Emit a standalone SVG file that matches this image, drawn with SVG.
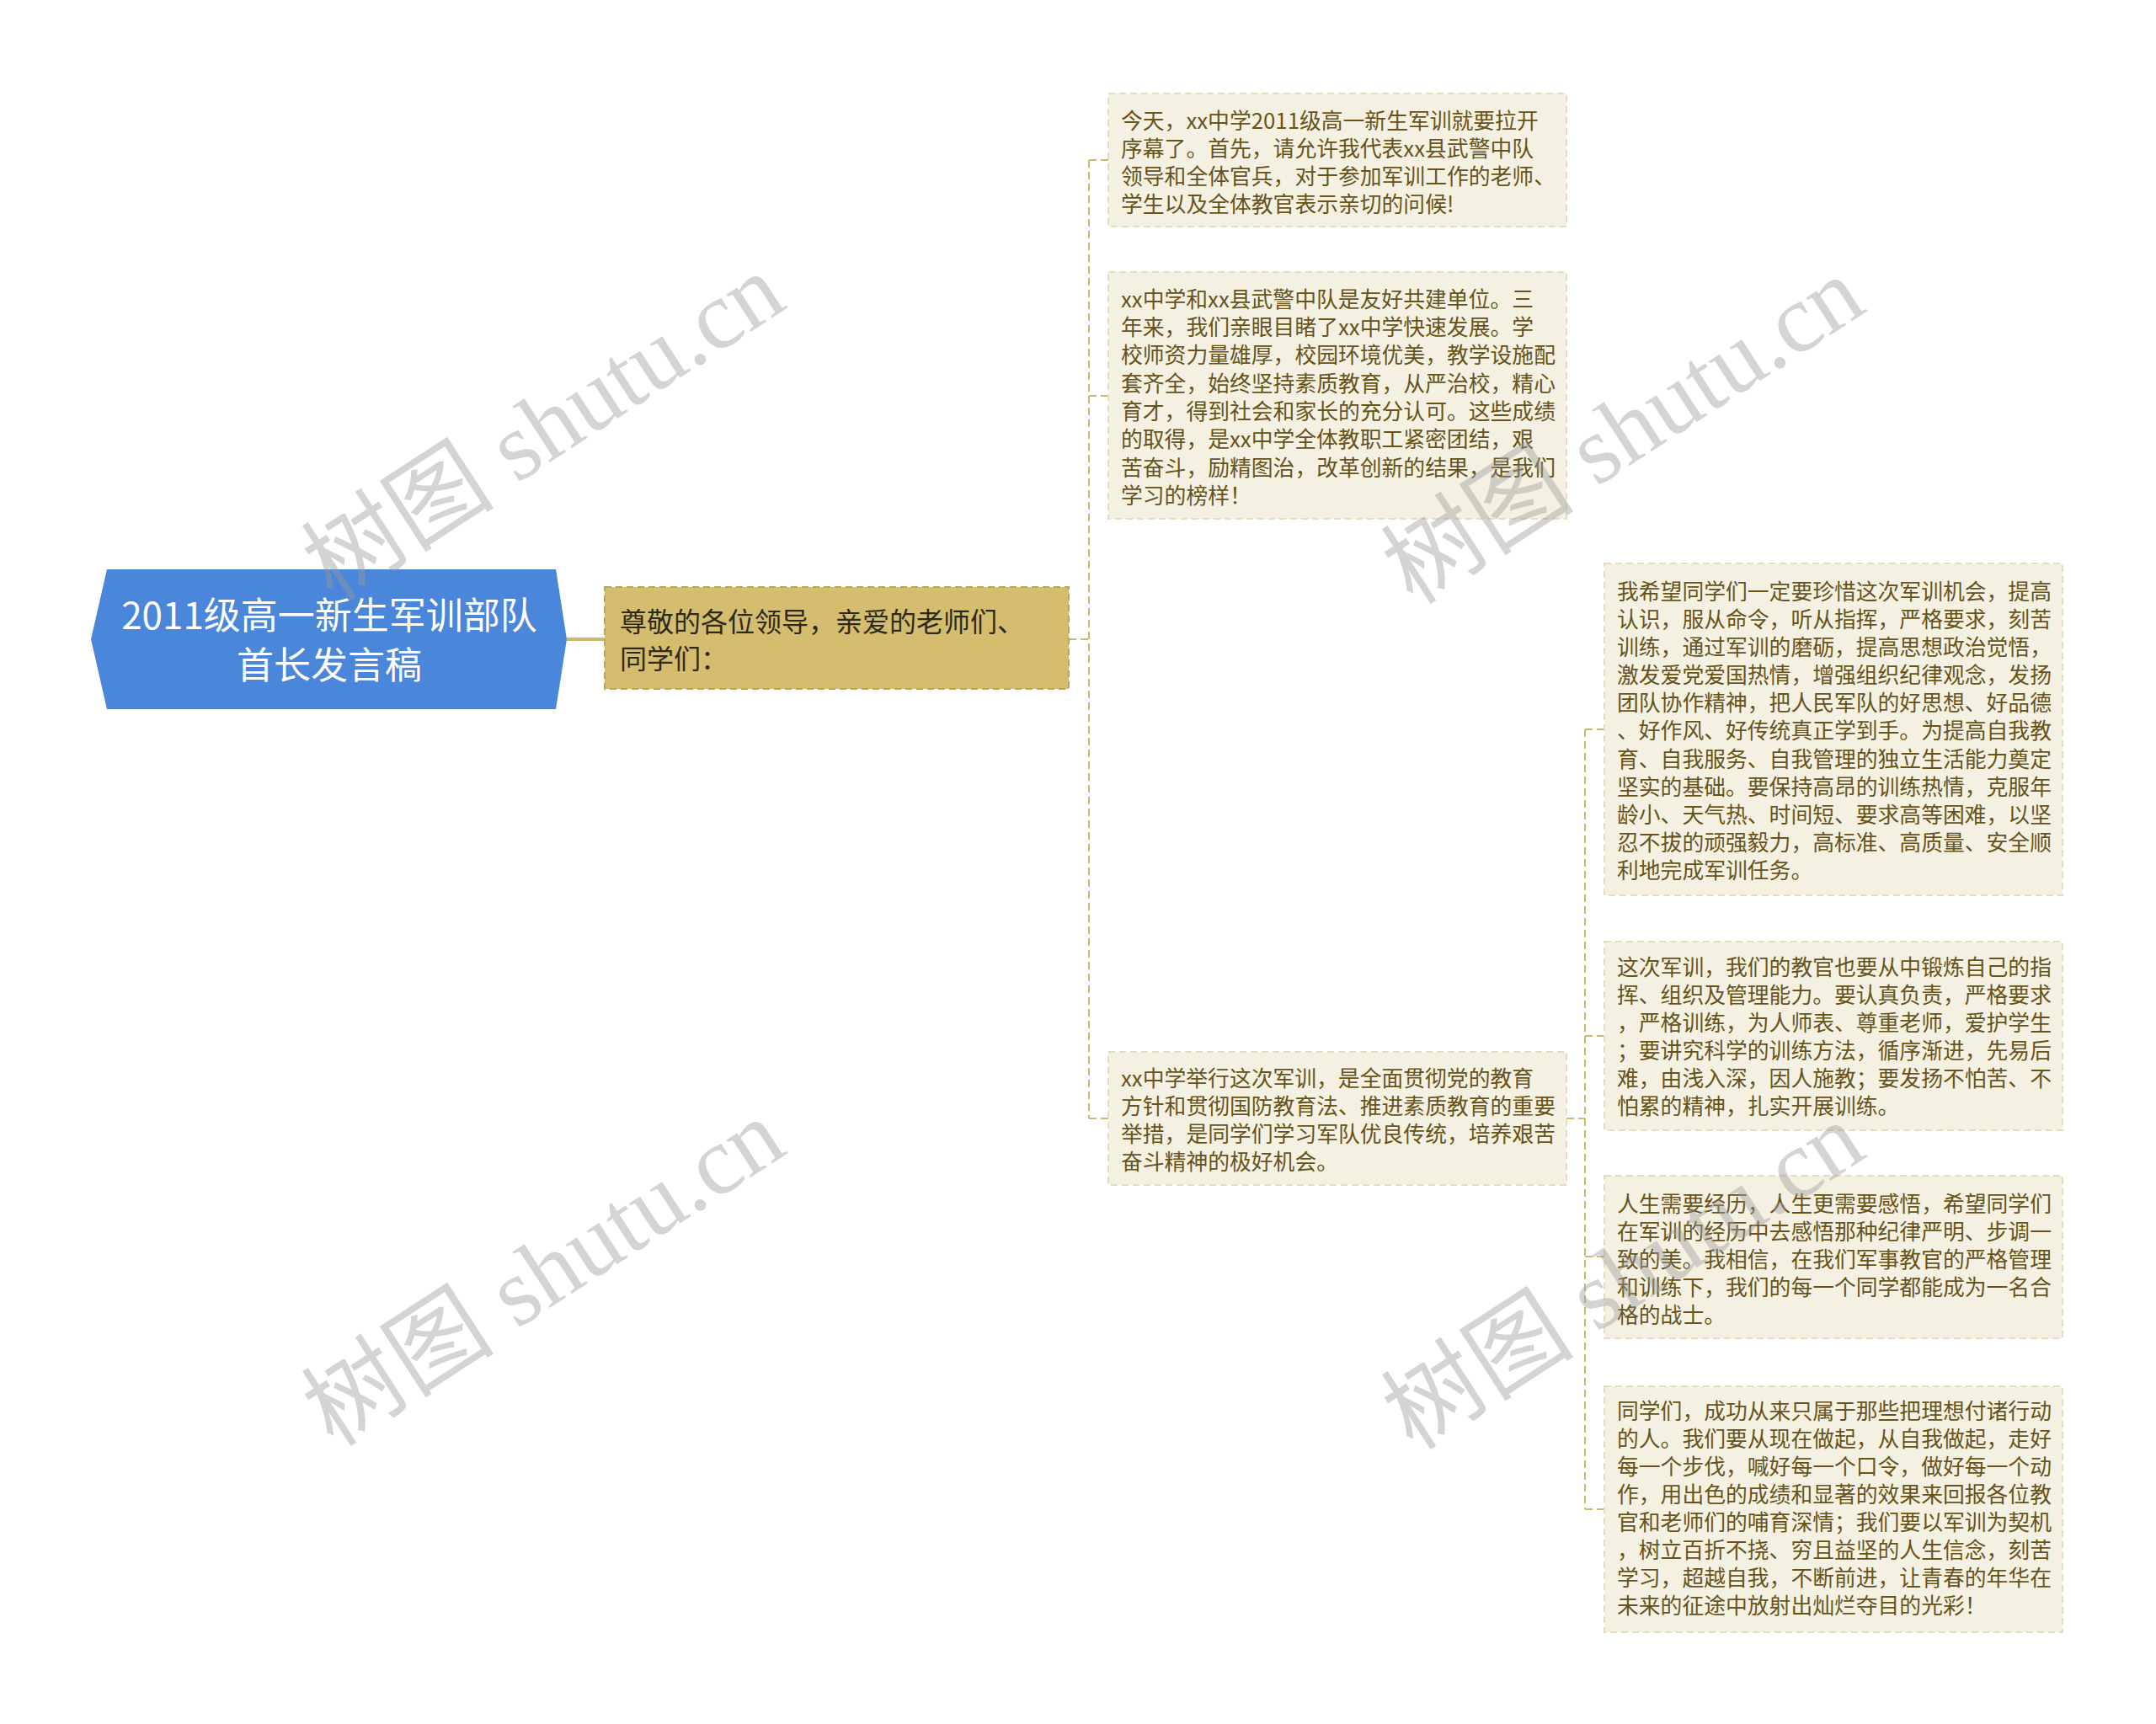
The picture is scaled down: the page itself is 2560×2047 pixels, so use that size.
<svg xmlns="http://www.w3.org/2000/svg" width="2560" height="2047" viewBox="0 0 2560 2047">
<style>
.t{font-family:'Noto Sans CJK SC','Noto Sans',sans-serif;}
.root{fill:#4a86d9;}
.rt{fill:#ffffff;font-size:44px;text-anchor:middle;}
.l1{fill:#d4bd6f;stroke:#bfa556;stroke-width:2;stroke-dasharray:8 5;}
.l1t{fill:#2e2a1a;font-size:32px;}
.leaf{fill:#f4f1e2;stroke:#e4ddc2;stroke-width:2;stroke-dasharray:8 5;}
.lt{fill:#67531a;font-size:25.8px;}
.c{fill:none;stroke:#cdb872;stroke-width:2;stroke-dasharray:9 5;}
.cs{fill:none;stroke:#cdb872;stroke-width:4;}
.wm{font-family:'Liberation Serif','Noto Sans CJK SC',serif;font-size:115px;fill:#9a9a9a;opacity:0.42;text-anchor:middle;}
</style>
<rect width="2560" height="2047" fill="#ffffff"/>
<g id="connectors">
<path class="cs" d="M673,759 H718"/>
<path class="c" d="M1269,759 H1293"/>
<path class="c" d="M1293,190 V1328"/>
<path class="c" d="M1293,190 H1316"/>
<path class="c" d="M1293,470 H1316"/>
<path class="c" d="M1293,1328 H1316"/>
<path class="c" d="M1860,1328 H1882"/>
<path class="c" d="M1882,866 V1792"/>
<path class="c" d="M1882,866 H1905"/>
<path class="c" d="M1882,1230 H1905"/>
<path class="c" d="M1882,1492 H1905"/>
<path class="c" d="M1882,1792 H1905"/>
</g>
<g id="root">
<polygon class="root" points="108,759 127,676 660,676 673,759 660,842 127,842"/>
<text class="t rt" x="391" y="747">2011级高一新生军训部队</text>
<text class="t rt" x="391" y="806">首长发言稿</text>
</g>
<g id="n-greeting">
<rect class="l1" x="718" y="697" width="551" height="121"/>
<text class="t l1t" x="736" y="750">尊敬的各位领导，亲爱的老师们、</text>
<text class="t l1t" x="736" y="794">同学们：</text>
</g>
<g id="n-a">
<rect class="leaf" x="1316" y="111" width="544" height="158"/>
<text class="t lt" x="1331" y="153">今天，xx中学2011级高一新生军训就要拉开</text>
<text class="t lt" x="1331" y="186">序幕了。首先，请允许我代表xx县武警中队</text>
<text class="t lt" x="1331" y="219">领导和全体官兵，对于参加军训工作的老师、</text>
<text class="t lt" x="1331" y="252">学生以及全体教官表示亲切的问候!</text>
</g>
<g id="n-b">
<rect class="leaf" x="1316" y="323" width="544" height="293"/>
<text class="t lt" x="1331" y="365">xx中学和xx县武警中队是友好共建单位。三</text>
<text class="t lt" x="1331" y="398">年来，我们亲眼目睹了xx中学快速发展。学</text>
<text class="t lt" x="1331" y="431">校师资力量雄厚，校园环境优美，教学设施配</text>
<text class="t lt" x="1331" y="465">套齐全，始终坚持素质教育，从严治校，精心</text>
<text class="t lt" x="1331" y="498">育才，得到社会和家长的充分认可。这些成绩</text>
<text class="t lt" x="1331" y="531">的取得，是xx中学全体教职工紧密团结，艰</text>
<text class="t lt" x="1331" y="565">苦奋斗，励精图治，改革创新的结果，是我们</text>
<text class="t lt" x="1331" y="598">学习的榜样！</text>
</g>
<g id="n-c">
<rect class="leaf" x="1316" y="1249" width="544" height="158"/>
<text class="t lt" x="1331" y="1290">xx中学举行这次军训，是全面贯彻党的教育</text>
<text class="t lt" x="1331" y="1323">方针和贯彻国防教育法、推进素质教育的重要</text>
<text class="t lt" x="1331" y="1356">举措，是同学们学习军队优良传统，培养艰苦</text>
<text class="t lt" x="1331" y="1389">奋斗精神的极好机会。</text>
</g>
<g id="n-d">
<rect class="leaf" x="1905" y="669" width="544" height="394"/>
<text class="t lt" x="1920" y="712">我希望同学们一定要珍惜这次军训机会，提高</text>
<text class="t lt" x="1920" y="745">认识，服从命令，听从指挥，严格要求，刻苦</text>
<text class="t lt" x="1920" y="778">训练，通过军训的磨砺，提高思想政治觉悟，</text>
<text class="t lt" x="1920" y="811">激发爱党爱国热情，增强组织纪律观念，发扬</text>
<text class="t lt" x="1920" y="844">团队协作精神，把人民军队的好思想、好品德</text>
<text class="t lt" x="1920" y="877">、好作风、好传统真正学到手。为提高自我教</text>
<text class="t lt" x="1920" y="911">育、自我服务、自我管理的独立生活能力奠定</text>
<text class="t lt" x="1920" y="944">坚实的基础。要保持高昂的训练热情，克服年</text>
<text class="t lt" x="1920" y="977">龄小、天气热、时间短、要求高等困难，以坚</text>
<text class="t lt" x="1920" y="1010">忍不拔的顽强毅力，高标准、高质量、安全顺</text>
<text class="t lt" x="1920" y="1043">利地完成军训任务。</text>
</g>
<g id="n-e">
<rect class="leaf" x="1905" y="1118" width="544" height="224"/>
<text class="t lt" x="1920" y="1158">这次军训，我们的教官也要从中锻炼自己的指</text>
<text class="t lt" x="1920" y="1191">挥、组织及管理能力。要认真负责，严格要求</text>
<text class="t lt" x="1920" y="1224">，严格训练，为人师表、尊重老师，爱护学生</text>
<text class="t lt" x="1920" y="1257">；要讲究科学的训练方法，循序渐进，先易后</text>
<text class="t lt" x="1920" y="1290">难，由浅入深，因人施教；要发扬不怕苦、不</text>
<text class="t lt" x="1920" y="1323">怕累的精神，扎实开展训练。</text>
</g>
<g id="n-f">
<rect class="leaf" x="1905" y="1396" width="544" height="193"/>
<text class="t lt" x="1920" y="1439">人生需要经历，人生更需要感悟，希望同学们</text>
<text class="t lt" x="1920" y="1472">在军训的经历中去感悟那种纪律严明、步调一</text>
<text class="t lt" x="1920" y="1505">致的美。我相信，在我们军事教官的严格管理</text>
<text class="t lt" x="1920" y="1538">和训练下，我们的每一个同学都能成为一名合</text>
<text class="t lt" x="1920" y="1571">格的战士。</text>
</g>
<g id="n-g">
<rect class="leaf" x="1905" y="1646" width="544" height="292"/>
<text class="t lt" x="1920" y="1685">同学们，成功从来只属于那些把理想付诸行动</text>
<text class="t lt" x="1920" y="1718">的人。我们要从现在做起，从自我做起，走好</text>
<text class="t lt" x="1920" y="1751">每一个步伐，喊好每一个口令，做好每一个动</text>
<text class="t lt" x="1920" y="1784">作，用出色的成绩和显著的效果来回报各位教</text>
<text class="t lt" x="1920" y="1817">官和老师们的哺育深情；我们要以军训为契机</text>
<text class="t lt" x="1920" y="1850">，树立百折不挠、穷且益坚的人生信念，刻苦</text>
<text class="t lt" x="1920" y="1883">学习，超越自我，不断前进，让青春的年华在</text>
<text class="t lt" x="1920" y="1916">未来的征途中放射出灿烂夺目的光彩！</text>
</g>
<g id="watermarks">
<text class="wm" transform="translate(646,508) rotate(-33)" x="0" y="38">树图 shutu.cn</text>
<text class="wm" transform="translate(1928,512) rotate(-33)" x="0" y="38">树图 shutu.cn</text>
<text class="wm" transform="translate(646,1512) rotate(-33)" x="0" y="38">树图 shutu.cn</text>
<text class="wm" transform="translate(1928,1516) rotate(-33)" x="0" y="38">树图 shutu.cn</text>
</g>
</svg>
